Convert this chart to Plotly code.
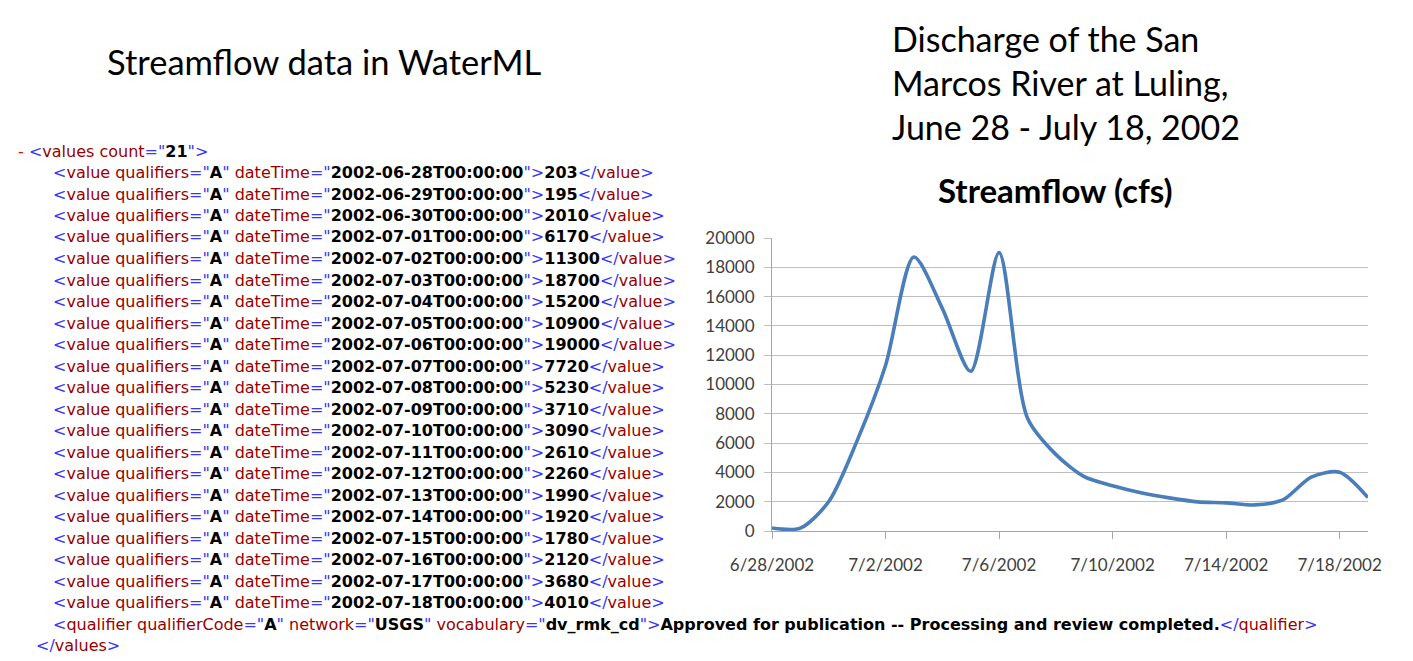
import plotly.graph_objects as go

# data as shown in the WaterML listing
dates = ['2002-06-28', '2002-06-29', '2002-06-30', '2002-07-01', '2002-07-02', '2002-07-03',
         '2002-07-04', '2002-07-05', '2002-07-06', '2002-07-07', '2002-07-08', '2002-07-09',
         '2002-07-10', '2002-07-11', '2002-07-12', '2002-07-13', '2002-07-14', '2002-07-15',
         '2002-07-16', '2002-07-17', '2002-07-18']
flow = [203, 195, 2010, 6170, 11300, 18700, 15200, 10900, 19000, 7720, 5230, 3710,
        3090, 2610, 2260, 1990, 1920, 1780, 2120, 3680, 4010]

# the chart carries one more day than the listing
chart_dates = dates + ['2002-07-19']
chart_flow = flow + [2280]

tick_dates = ['2002-06-28', '2002-07-02', '2002-07-06', '2002-07-10', '2002-07-14', '2002-07-18']
tick_labels = ['6/28/2002', '7/2/2002', '7/6/2002', '7/10/2002', '7/14/2002', '7/18/2002']

W, H = 1413, 661
# plot area in pixels
L, R, T, B = 772, 1368, 238, 531

BLUE = '#3535ff'
RED = '#990000'
TITLE_FONT = 'Lato'
XML_FONT = 'DejaVu Sans'
XML_SIZE = 16


def px(x):
    return (x - L) / (R - L)


def py(y):
    return (B - y) / (B - T)


def m(s):
    return f'<span style="color:{BLUE}">{s}</span>'


def t(s):
    return f'<span style="color:{RED}">{s}</span>'


def b(s):
    return f'<b>{s}</b>'


def attr(name, val):
    return t(name) + m('="') + b(val) + m('"')


fig = go.Figure()
fig.add_trace(go.Scatter(
    x=chart_dates, y=chart_flow, mode='lines',
    line=dict(color='#4a7ebb', width=3.6, shape='spline', smoothing=0.8),
    hoverinfo='x+y', showlegend=False,
))

annotations = []


def add_text(x, y, text, size, font=TITLE_FONT, color='#000000', xanchor='left'):
    annotations.append(dict(
        x=px(x), y=py(y), xref='paper', yref='paper', text=text, showarrow=False,
        xanchor=xanchor, yanchor='middle', align='left',
        font=dict(family=font, size=size, color=color),
    ))


# slide titles
add_text(105, 62, 'Streamflow data in WaterML', 34.5)
add_text(890, 38, 'Discharge of the San', 34)
add_text(890, 83, 'Marcos River at Luling,', 34)
add_text(890, 127, 'June 28 - July 18, 2002', 34)
add_text(1055, 190, '<b>Streamflow (cfs)</b>', 33, xanchor='center')

# WaterML listing
step = 21.5
y0 = 151
add_text(16, y0, '<span style="color:#ff0000">-</span> ' + m('&lt;') + t('values') + ' '
         + attr('count', '21') + m('&gt;'), XML_SIZE, font=XML_FONT)
for i, (d, v) in enumerate(zip(dates, flow)):
    line = (m('&lt;') + t('value') + ' ' + attr('qualifiers', 'A') + ' '
            + attr('dateTime', d + 'T00:00:00') + m('&gt;') + b(v)
            + m('&lt;/') + t('value') + m('&gt;'))
    add_text(51, y0 + step * (i + 1), line, XML_SIZE, font=XML_FONT)
qual = (m('&lt;') + t('qualifier') + ' ' + attr('qualifierCode', 'A') + ' '
        + attr('network', 'USGS') + ' ' + attr('vocabulary', 'dv_rmk_cd') + m('&gt;')
        + b('Approved for publication -- Processing and review completed.')
        + m('&lt;/') + t('qualifier') + m('&gt;'))
add_text(51, y0 + step * 22, qual, XML_SIZE, font=XML_FONT)
add_text(34, y0 + step * 23, m('&lt;/') + t('values') + m('&gt;'), XML_SIZE, font=XML_FONT)

fig.update_layout(
    width=W, height=H, autosize=False,
    margin=dict(l=L, r=W - R, t=T, b=H - B, pad=0),
    paper_bgcolor='white', plot_bgcolor='white',
    annotations=annotations,
    xaxis=dict(
        type='date', range=['2002-06-28', '2002-07-19'],
        tickvals=tick_dates, ticktext=tick_labels,
        showgrid=False, showline=True, linecolor='#a6a6a6', linewidth=1,
        ticks='outside', ticklen=7, tickcolor='#a6a6a6',
        ticklabelstandoff=12,
        tickfont=dict(family=TITLE_FONT, size=17, color='#404040'),
        zeroline=False,
    ),
    yaxis=dict(
        range=[0, 20000], dtick=2000, tickformat='d',
        showgrid=True, gridcolor='#bfbfbf', gridwidth=1.3,
        showline=True, linecolor='#a6a6a6', linewidth=1,
        ticks='outside', ticklen=7, tickcolor='#bfbfbf',
        ticklabelstandoff=6,
        tickfont=dict(family=TITLE_FONT, size=17, color='#404040'),
        zeroline=False,
    ),
)

# page body has a default margin; drop it so the figure sits at the window corner
fig.write_html('out.html', config={'displayModeBar': False},
               post_script="document.body.style.margin = '0';")
